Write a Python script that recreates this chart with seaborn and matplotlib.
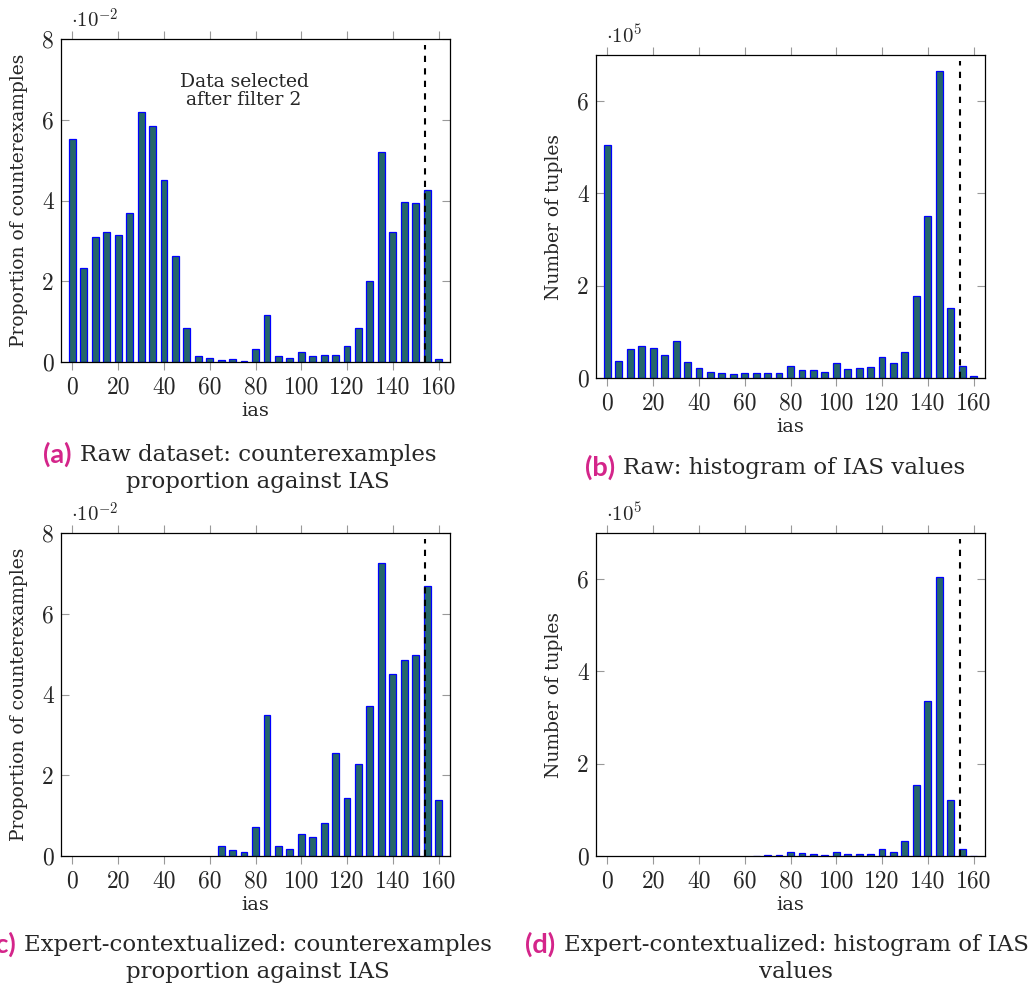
import matplotlib
matplotlib.use("Agg")
import matplotlib.pyplot as plt
import seaborn as sns

nan = float("nan")

# IAS bins (knots), one bar every 5
ias_bins = list(range(0, 165, 5))

# proportion of counterexamples, in units of 1e-2
raw_prop = [5.52, 2.32, 3.09, 3.21, 3.15, 3.69, 6.18, 5.85, 4.51, 2.62, 0.83,
            0.14, 0.10, 0.04, 0.07, 0.03, 0.32, 1.17, 0.14, 0.09, 0.25, 0.14,
            0.17, 0.17, 0.40, 0.85, 2.01, 5.20, 3.22, 3.96, 3.93, 4.26, 0.08]
expert_prop = [nan] * 13 + [
    0.26, 0.14, 0.10, 0.71, 3.50, 0.25, 0.17, 0.55, 0.48, 0.82,
    2.54, 1.43, 2.27, 3.71, 7.25, 4.50, 4.86, 4.98, 6.69, 1.38]

# number of tuples, in units of 1e5
raw_count = [5.04, 0.36, 0.62, 0.69, 0.65, 0.49, 0.81, 0.34, 0.22, 0.14, 0.11,
             0.09, 0.11, 0.10, 0.11, 0.11, 0.25, 0.18, 0.17, 0.14, 0.32, 0.20,
             0.22, 0.24, 0.46, 0.32, 0.57, 1.78, 3.52, 6.66, 1.51, 0.27, 0.04]
expert_count = [nan] * 13 + [
    0.01, 0.02, 0.02, 0.09, 0.06, 0.04, 0.02, 0.09, 0.04, 0.04,
    0.04, 0.16, 0.09, 0.33, 1.53, 3.36, 6.04, 1.21, 0.16, 0.01]

cutoff_ias = 154  # filter 2 threshold

sns.set_style("ticks")
plt.rcParams["font.family"] = ["DejaVu Serif"]
plt.rcParams["mathtext.fontset"] = "cm"

W, H = 1028, 992
fig = plt.figure(figsize=(W / 100, H / 100), dpi=100)

fill = "#25676a"
magenta = "#d4258a"


def px_axes(left, top, right, bottom):
    return fig.add_axes([left / W, 1 - bottom / H, (right - left) / W, (bottom - top) / H])


def draw(ax, values, ylabel, ymax, yticks, mult):
    sns.barplot(x=ias_bins, y=values, native_scale=True, width=0.6, color=fill,
                saturation=1, edgecolor="blue", linewidth=0.9, errorbar=None, ax=ax)
    ax.axvline(cutoff_ias, ymin=0, ymax=0.98, color="black", ls=(0, (3, 3)), lw=1.5)
    ax.set_xlim(-5, 165)
    ax.set_ylim(0, ymax)
    ax.set_xticks(range(0, 161, 20))
    ax.set_yticks(yticks)
    ax.tick_params(axis="x", direction="out", top=True, bottom=True, length=6,
                   width=0.8, color="#999999", labelsize=17, pad=4)
    ax.tick_params(axis="y", direction="in", left=True, right=True, length=6,
                   width=0.8, color="#999999", labelsize=17, pad=5)
    for lab in ax.get_xticklabels() + ax.get_yticklabels():
        lab.set_fontfamily("cmr10")
    for sp in ax.spines.values():
        sp.set_visible(True)
        sp.set_color("black")
        sp.set_linewidth(0.9)
    ax.set_xlabel("ias", fontsize=14)
    ax.xaxis.set_label_coords(0.5, -0.125)
    ax.set_ylabel(ylabel, fontsize=13.5)
    ax.yaxis.set_label_coords(-0.085, 0.5)
    ax.text(0.025, 1.035, mult, transform=ax.transAxes, fontsize=15, va="baseline")


ax_a = px_axes(61, 39, 450, 362)
draw(ax_a, raw_prop, "Proportion of counterexamples", 8, [0, 2, 4, 6, 8], r"$\cdot 10^{-2}$")
ax_a.text(75, 6.72, "Data selected\nafter filter 2", ha="center", va="center", fontsize=13.5,
          linespacing=1.0)

ax_b = px_axes(596, 55, 985, 378)
draw(ax_b, raw_count, "Number of tuples", 7, [0, 2, 4, 6], r"$\cdot 10^{5}$")

ax_c = px_axes(61, 533, 450, 856)
draw(ax_c, expert_prop, "Proportion of counterexamples", 8, [0, 2, 4, 6, 8], r"$\cdot 10^{-2}$")

ax_d = px_axes(596, 533, 985, 856)
draw(ax_d, expert_count, "Number of tuples", 7, [0, 2, 4, 6], r"$\cdot 10^{5}$")

renderer = fig.canvas.get_renderer()


def caption(label, body, body_cx, top):
    t = fig.text(body_cx / W, 1 - top / H, body, ha="center", va="top", fontsize=16.5,
                 multialignment="center", linespacing=1.3)
    left = t.get_window_extent(renderer).x0
    fig.text((left - 8) / W, 1 - (top - 2) / H, label, ha="right", va="top", fontsize=19.5,
             color=magenta, fontweight="bold", family=["Lato", "DejaVu Sans"])


caption("(a)", "Raw dataset: counterexamples\nproportion against IAS", 258, 444)
caption("(b)", "Raw: histogram of IAS values", 794, 457)
caption("(c)", "Expert-contextualized: counterexamples\nproportion against IAS", 258, 934)
caption("(d)", "Expert-contextualized: histogram of IAS\nvalues", 796, 934)

fig.savefig("out.png", dpi=100)
